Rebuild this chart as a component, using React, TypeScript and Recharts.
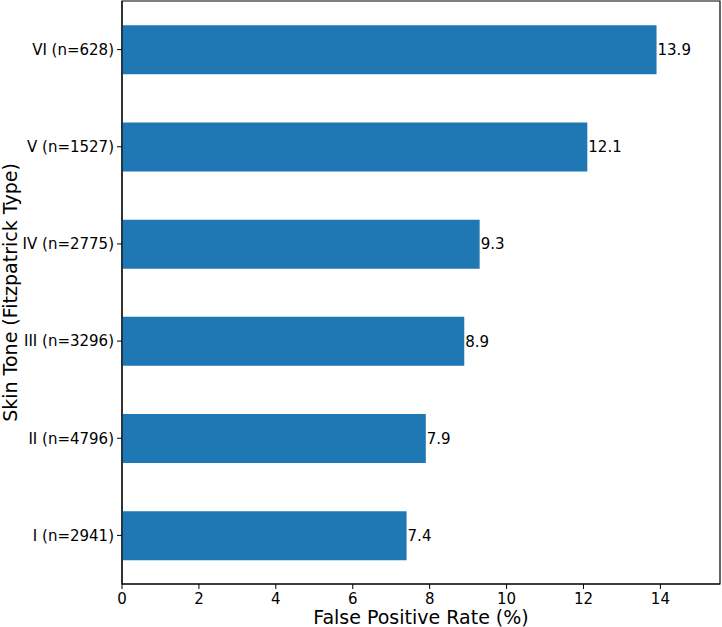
import { BarChart, Bar, XAxis, YAxis, LabelList, ReferenceArea, Label } from "recharts";

const skinTones = ["I (n=2941)", "II (n=4796)", "III (n=3296)", "IV (n=2775)", "V (n=1527)", "VI (n=628)"];
const falsePositiveRates = [7.4, 7.9, 8.9, 9.3, 12.1, 13.9];
const xTicks = [0, 2, 4, 6, 8, 10, 12, 14];
const xMax = 15.55;

const data = skinTones.map((tone, i) => ({ tone, rate: falsePositiveRates[i] }));

const font = "'DejaVu Sans', sans-serif";

export default function App() {
  return (
    <div style={{ position: "absolute", left: 0, top: 0, width: 722, height: 627, background: "#fff", fontFamily: font }}>
      <BarChart
        width={722}
        height={627}
        data={data}
        layout="vertical"
        margin={{ top: 1, right: 2, bottom: 0, left: 0 }}
        barCategoryGap="25%"
      >
        <ReferenceArea x1={0} x2={xMax} fill="none" stroke="#000" strokeWidth={1.2} fillOpacity={0} ifOverflow="visible" />
        <XAxis
          type="number"
          dataKey="rate"
          domain={[0, xMax]}
          ticks={xTicks}
          allowDataOverflow
          height={43}
          tickSize={5}
          tickMargin={4}
          tick={{ fontSize: 15, fill: "#000", fontFamily: font }}
          stroke="#000"
          tickLine={{ stroke: "#000" }}
        >
          <Label
            content={({ viewBox }: any) => (
              <text
                x={viewBox.x + viewBox.width / 2}
                y={viewBox.y + 40}
                textAnchor="middle"
                fontSize={19}
                fill="#000"
                fontFamily={font}
              >
                False Positive Rate (%)
              </text>
            )}
          />
        </XAxis>
        <YAxis
          type="category"
          dataKey="tone"
          reversed
          width={122}
          tickSize={5}
          tickMargin={3}
          tick={{ fontSize: 15, fill: "#000", fontFamily: font }}
          stroke="#000"
          tickLine={{ stroke: "#000" }}
        >
          <Label
            content={({ viewBox }: any) => {
              const cx = 10;
              const cy = viewBox.y + viewBox.height / 2;
              return (
                <text
                  x={cx}
                  y={cy}
                  transform={`rotate(-90, ${cx}, ${cy})`}
                  textAnchor="middle"
                  dominantBaseline="central"
                  fontSize={19}
                  fill="#000"
                  fontFamily={font}
                >
                  Skin Tone (Fitzpatrick Type)
                </text>
              );
            }}
          />
        </YAxis>
        <Bar dataKey="rate" fill="#1f77b4" isAnimationActive={false}>
          <LabelList
            dataKey="rate"
            position="right"
            offset={1}
            formatter={(v: number) => v.toFixed(1)}
            style={{ fontSize: 15, fill: "#000", fontFamily: font }}
          />
        </Bar>
      </BarChart>
    </div>
  );
}
